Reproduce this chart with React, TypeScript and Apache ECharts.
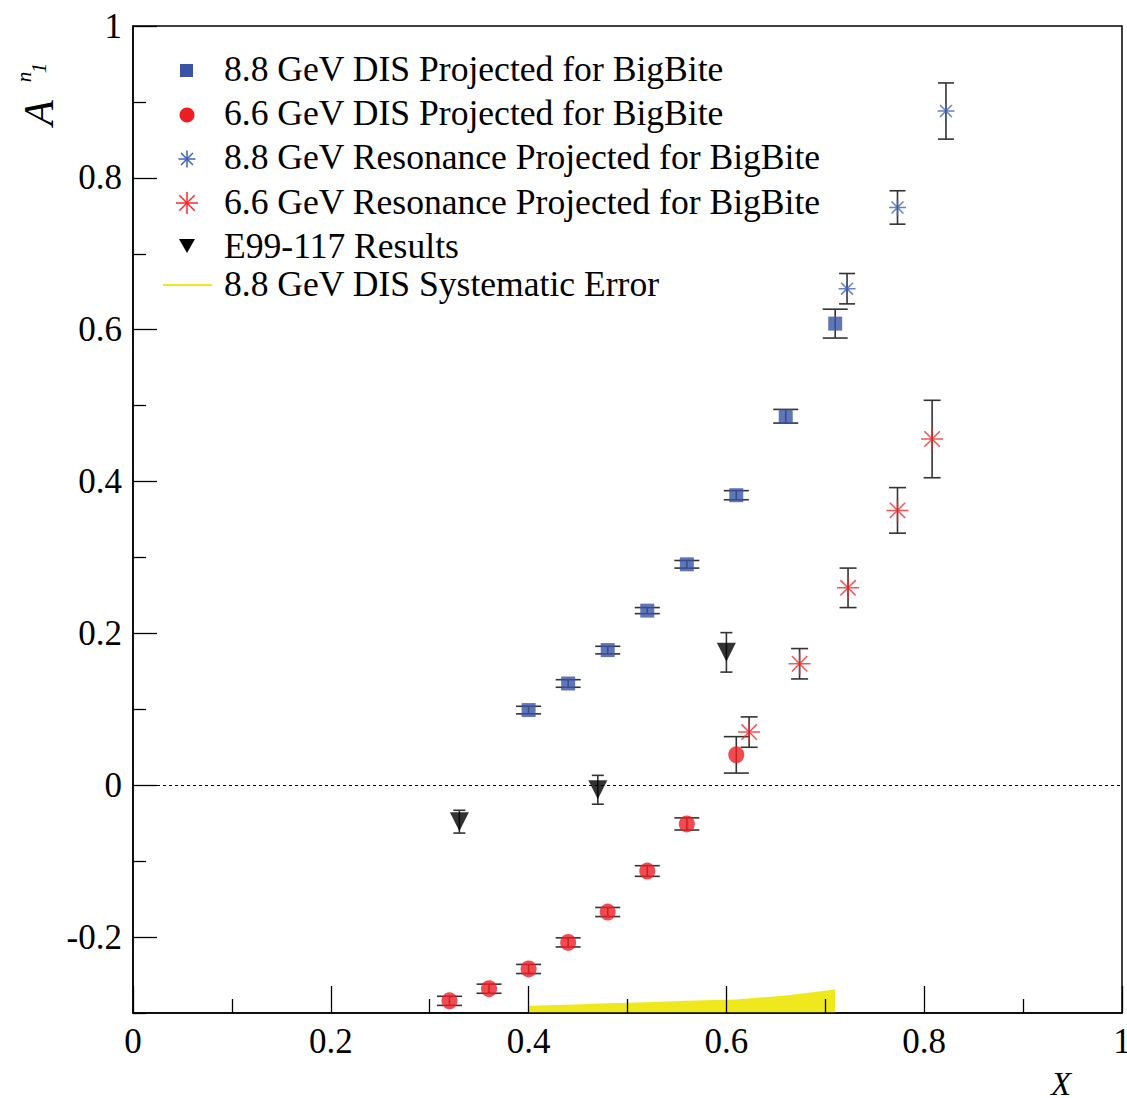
import React, { useEffect, useRef } from "react";
import * as echarts from "echarts";

// 8.8 GeV DIS projection
const dis88X = [0.4, 0.44, 0.48, 0.52, 0.56, 0.61, 0.66, 0.71];
const dis88Y = [0.099, 0.134, 0.178, 0.23, 0.291, 0.382, 0.486, 0.608];
const dis88Err = [0.005, 0.005, 0.005, 0.004, 0.005, 0.006, 0.009, 0.019];
const dis88Sys = [0.0096, 0.011, 0.0127, 0.0143, 0.016, 0.0178, 0.023, 0.031];

// 6.6 GeV DIS projection
const dis66X = [0.32, 0.36, 0.4, 0.44, 0.48, 0.52, 0.56, 0.61];
const dis66Y = [-0.284, -0.268, -0.242, -0.207, -0.167, -0.113, -0.051, 0.04];
const dis66Err = [0.006, 0.006, 0.006, 0.006, 0.006, 0.007, 0.008, 0.024];

// 8.8 GeV resonance projection
const res88X = [0.722, 0.773, 0.822];
const res88Y = [0.654, 0.761, 0.888];
const res88Err = [0.02, 0.022, 0.037];

// 6.6 GeV resonance projection
const res66X = [0.623, 0.674, 0.723, 0.773, 0.808];
const res66Y = [0.07, 0.16, 0.26, 0.362, 0.456];
const res66Err = [0.02, 0.02, 0.026, 0.03, 0.051];

// E99-117 results
const e99X = [0.33, 0.47, 0.6];
const e99Y = [-0.048, -0.006, 0.175];
const e99Err = [0.015, 0.019, 0.026];

const xMajor = [0, 0.2, 0.4, 0.6, 0.8, 1];
const yMajor = [-0.2, 0, 0.2, 0.4, 0.6, 0.8, 1];
const yMinor = [-0.3, -0.1, 0.1, 0.3, 0.5, 0.7, 0.9];

const legendLabels = [
  "8.8 GeV DIS Projected for BigBite",
  "6.6 GeV DIS Projected for BigBite",
  "8.8 GeV Resonance Projected for BigBite",
  "6.6 GeV Resonance Projected for BigBite",
  "E99-117 Results",
  "8.8 GeV DIS Systematic Error",
];

const BLUE = "#3a54a5";
const RED = "#ee1d24";
const BLUE_STAR = "#4160b8";
const RED_STAR = "#ef2b2b";
const YELLOW = "#efe81c";
const SERIF = "'Liberation Serif', 'Times New Roman', serif";
const ASTERISK = "path://M0,10L20,10M10,0L10,20M3,3L17,17M17,3L3,17";

const fmt = (v: number) => String(Math.round(v * 10) / 10);

function errorBars(name: string, xs: number[], ys: number[], errs: number[], cap: number) {
  return {
    type: "custom",
    name,
    silent: true,
    z: 3,
    data: xs.map((x, i) => [x, ys[i] - errs[i], ys[i] + errs[i]]),
    encode: { x: 0, y: [1, 2] },
    renderItem: (_params: any, api: any) => {
      const lo = api.coord([api.value(0), api.value(1)]);
      const hi = api.coord([api.value(0), api.value(2)]);
      const style = { stroke: "#333333", lineWidth: 1.6 };
      return {
        type: "group",
        children: [
          { type: "line", shape: { x1: lo[0], y1: lo[1], x2: hi[0], y2: hi[1] }, style },
          { type: "line", shape: { x1: lo[0] - cap / 2, y1: lo[1], x2: lo[0] + cap / 2, y2: lo[1] }, style },
          { type: "line", shape: { x1: hi[0] - cap / 2, y1: hi[1], x2: hi[0] + cap / 2, y2: hi[1] }, style },
        ],
      };
    },
  };
}

function starGlyph(cx: number, cy: number, r: number, color: string) {
  const d = r * 0.7;
  const style = { stroke: color, lineWidth: 1.5 };
  return {
    type: "group",
    children: [
      { type: "line", shape: { x1: cx - r, y1: cy, x2: cx + r, y2: cy }, style },
      { type: "line", shape: { x1: cx, y1: cy - r, x2: cx, y2: cy + r }, style },
      { type: "line", shape: { x1: cx - d, y1: cy - d, x2: cx + d, y2: cy + d }, style },
      { type: "line", shape: { x1: cx + d, y1: cy - d, x2: cx - d, y2: cy + d }, style },
    ],
  };
}

export default function App() {
  const ref = useRef<HTMLDivElement>(null);

  useEffect(() => {
    if (!ref.current) return;
    const chart = echarts.init(ref.current, undefined, { renderer: "svg" });

    const rowY = [69, 113, 157, 202, 246, 284];
    const legendGraphics: any[] = [
      { type: "rect", shape: { x: 180, y: 64, width: 13, height: 13 }, style: { fill: BLUE } },
      { type: "circle", shape: { cx: 187, cy: 115, r: 7.5 }, style: { fill: RED } },
      starGlyph(187, 159, 8.5, BLUE_STAR),
      starGlyph(187, 203, 11, RED_STAR),
      { type: "polygon", shape: { points: [[179, 239], [195, 239], [187, 253]] }, style: { fill: "#000" } },
      { type: "line", shape: { x1: 163, y1: 285, x2: 212, y2: 285 }, style: { stroke: YELLOW, lineWidth: 2 } },
      ...legendLabels.map((t, i) => ({
        type: "text",
        x: 224,
        y: rowY[i],
        style: { text: t, font: `35.6px ${SERIF}`, fill: "#000", textVerticalAlign: "middle", textAlign: "left" },
      })),
    ];

    const axisTitles: any[] = [
      {
        type: "text", x: 39, y: 113, rotation: Math.PI / 2,
        style: { text: "A", font: `italic 42px ${SERIF}`, fill: "#000", textAlign: "center", textVerticalAlign: "middle" },
      },
      {
        type: "text", x: 39, y: 68, rotation: Math.PI / 2,
        style: { text: "1", font: `italic 21px ${SERIF}`, fill: "#000", textAlign: "center", textVerticalAlign: "middle" },
      },
      {
        type: "text", x: 24, y: 77, rotation: Math.PI / 2,
        style: { text: "n", font: `italic 21px ${SERIF}`, fill: "#000", textAlign: "center", textVerticalAlign: "middle" },
      },
      {
        type: "text", x: 1061, y: 1084,
        style: { text: "X", font: `italic 33px ${SERIF}`, fill: "#000", textAlign: "center", textVerticalAlign: "middle" },
      },
    ];

    const labelStyle = { fontSize: 35, fontFamily: "Liberation Serif", color: "#000" };

    chart.setOption({
      animation: false,
      backgroundColor: "#fff",
      grid: {
        left: 133, top: 26, right: 5, bottom: 85,
        outerBoundsMode: "none",
        containLabel: false,
        show: true, borderColor: "#000", borderWidth: 1.5, backgroundColor: "transparent",
      },
      xAxis: {
        type: "value", min: 0, max: 1, interval: 0.2, z: 10,
        axisLine: { show: true, onZero: false, lineStyle: { color: "#000", width: 1.5 } },
        axisTick: { show: true, inside: true, length: 27, lineStyle: { color: "#000", width: 1.3 } },
        minorTick: { show: true, splitNumber: 2, length: 14, lineStyle: { color: "#000", width: 1.3 } },
        axisLabel: { ...labelStyle, margin: 11, formatter: (v: number) => fmt(v), customValues: xMajor },
        splitLine: { show: false },
        minorSplitLine: { show: false },
      },
      yAxis: [
        {
          type: "value", min: -0.3, max: 1, position: "left", z: 10,
          axisLine: { show: true, onZero: false, lineStyle: { color: "#000", width: 1.5 } },
          axisTick: { show: true, inside: true, length: 24, customValues: yMajor, lineStyle: { color: "#000", width: 1.3 } },
          axisLabel: { ...labelStyle, margin: 11, customValues: yMajor, formatter: (v: number) => fmt(v) },
          splitLine: { show: false },
        },
        {
          type: "value", min: -0.3, max: 1, position: "left", offset: 0, z: 10,
          axisLine: { show: false },
          axisTick: { show: true, inside: true, length: 13, customValues: yMinor, lineStyle: { color: "#000", width: 1.3 } },
          axisLabel: { show: false },
          splitLine: { show: false },
        },
      ],
      graphic: [...legendGraphics, ...axisTitles],
      series: [
        {
          type: "line",
          name: "8.8 GeV DIS Systematic Error",
          z: 1,
          silent: true,
          showSymbol: false,
          symbol: "none",
          lineStyle: { width: 0 },
          areaStyle: { color: YELLOW, opacity: 1, origin: "start" },
          data: dis88X.map((x, i) => [x, -0.3 + dis88Sys[i]]),
          markLine: {
            silent: true,
            symbol: ["none", "none"],
            label: { show: false },
            lineStyle: { color: "#000", type: [3, 3], width: 1 },
            data: [{ yAxis: 0 }],
          },
        },
        errorBars("dis88 err", dis88X, dis88Y, dis88Err, 25),
        errorBars("dis66 err", dis66X, dis66Y, dis66Err, 25),
        errorBars("res88 err", res88X, res88Y, res88Err, 16),
        errorBars("res66 err", res66X, res66Y, res66Err, 17),
        errorBars("e99 err", e99X, e99Y, e99Err, 12),
        {
          type: "scatter", name: legendLabels[0], z: 4,
          symbol: "rect", symbolSize: 14,
          itemStyle: { color: BLUE },
          data: dis88X.map((x, i) => [x, dis88Y[i]]),
        },
        {
          type: "scatter", name: legendLabels[1], z: 4,
          symbol: "circle", symbolSize: [16, 17],
          itemStyle: { color: RED },
          data: dis66X.map((x, i) => [x, dis66Y[i]]),
        },
        {
          type: "scatter", name: legendLabels[2], z: 4,
          symbol: ASTERISK, symbolSize: 17,
          itemStyle: { color: "transparent", borderColor: BLUE_STAR, borderWidth: 1.5 },
          data: res88X.map((x, i) => [x, res88Y[i]]),
        },
        {
          type: "scatter", name: legendLabels[3], z: 4,
          symbol: ASTERISK, symbolSize: 22,
          itemStyle: { color: "transparent", borderColor: RED_STAR, borderWidth: 1.5 },
          data: res66X.map((x, i) => [x, res66Y[i]]),
        },
        {
          type: "scatter", name: legendLabels[4], z: 4,
          symbol: "triangle", symbolRotate: 180, symbolSize: [19, 19],
          itemStyle: { color: "#000" },
          data: e99X.map((x, i) => [x, e99Y[i]]),
        },
      ],
    });

    return () => chart.dispose();
  }, []);

  return (
    <div
      ref={ref}
      style={{ position: "fixed", left: 0, top: 0, width: 1127, height: 1098 }}
    />
  );
}
